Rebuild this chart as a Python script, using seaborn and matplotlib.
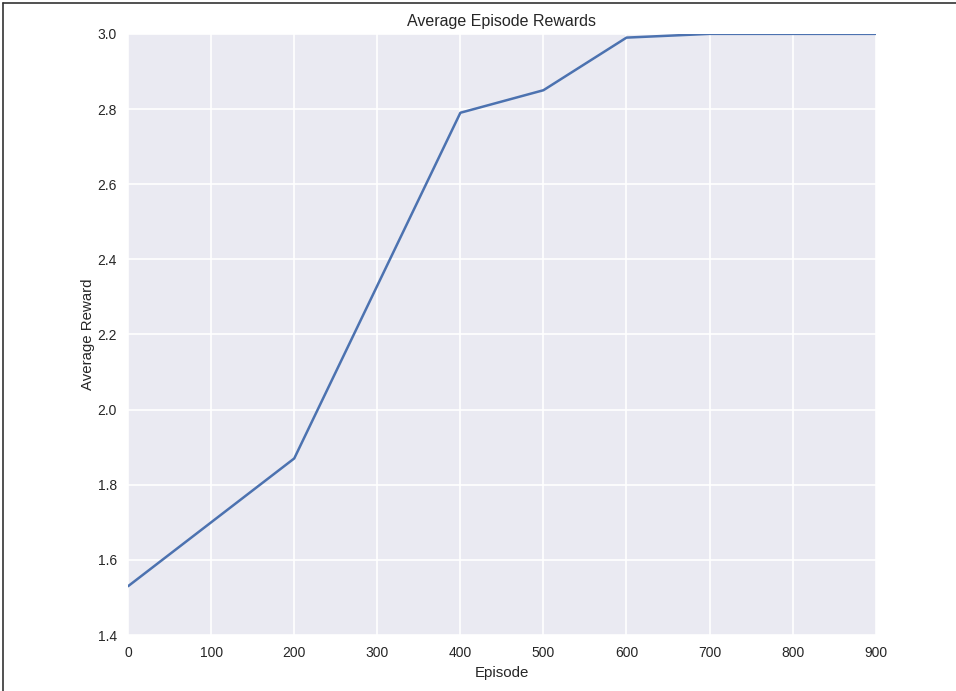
import numpy as np
import pandas as pd
import seaborn as sns
import matplotlib.pyplot as plt
from matplotlib.lines import Line2D

# data
episodes = [0, 100, 200, 300, 400, 500, 600, 700, 800, 900]
avg_rewards = [1.53, 1.70, 1.87, 2.33, 2.79, 2.85, 2.99, 3.0, 3.0, 3.0]

df = pd.DataFrame({'Episode': episodes, 'Average Reward': avg_rewards})

sns.set_style('darkgrid', {'axes.facecolor': '#EAEAF2', 'grid.color': 'white'})
plt.rcParams['font.family'] = ['Liberation Sans', 'DejaVu Sans']
plt.rcParams['text.color'] = '#262626'
plt.rcParams['axes.labelcolor'] = '#262626'
plt.rcParams['xtick.color'] = '#262626'
plt.rcParams['ytick.color'] = '#262626'

fig = plt.figure(figsize=(9.56, 6.91), dpi=100)
ax = fig.add_axes([0.134, 0.081, 0.782, 0.870])

# thin dark frame on the left and top edges, as in the screenshot
fig.add_artist(Line2D([0.003, 0.003], [0, 0.996], transform=fig.transFigure, color='#333333', linewidth=1.2))
fig.add_artist(Line2D([0.003, 1], [0.996, 0.996], transform=fig.transFigure, color='#333333', linewidth=1.2))

sns.lineplot(data=df, x='Episode', y='Average Reward', color='#4C72B0', linewidth=1.8, ax=ax)

ax.set_xlim(0, 900)
ax.set_ylim(1.4, 3.0)
ax.set_xticks(np.arange(0, 901, 100))
ax.set_yticks(np.arange(1.4, 3.01, 0.2))
ax.set_yticklabels(['%.1f' % v for v in np.arange(1.4, 3.01, 0.2)])
ax.tick_params(labelsize=10, length=0, pad=8)
ax.grid(True, color='white', linewidth=1.2)
for s in ax.spines.values():
    s.set_visible(False)

ax.set_title('Average Episode Rewards', fontsize=11.5, pad=6)
ax.set_xlabel('Episode', fontsize=10.8, labelpad=4)
ax.set_ylabel('Average Reward', fontsize=10.8, labelpad=2)

fig.savefig('out.png', dpi=100)
